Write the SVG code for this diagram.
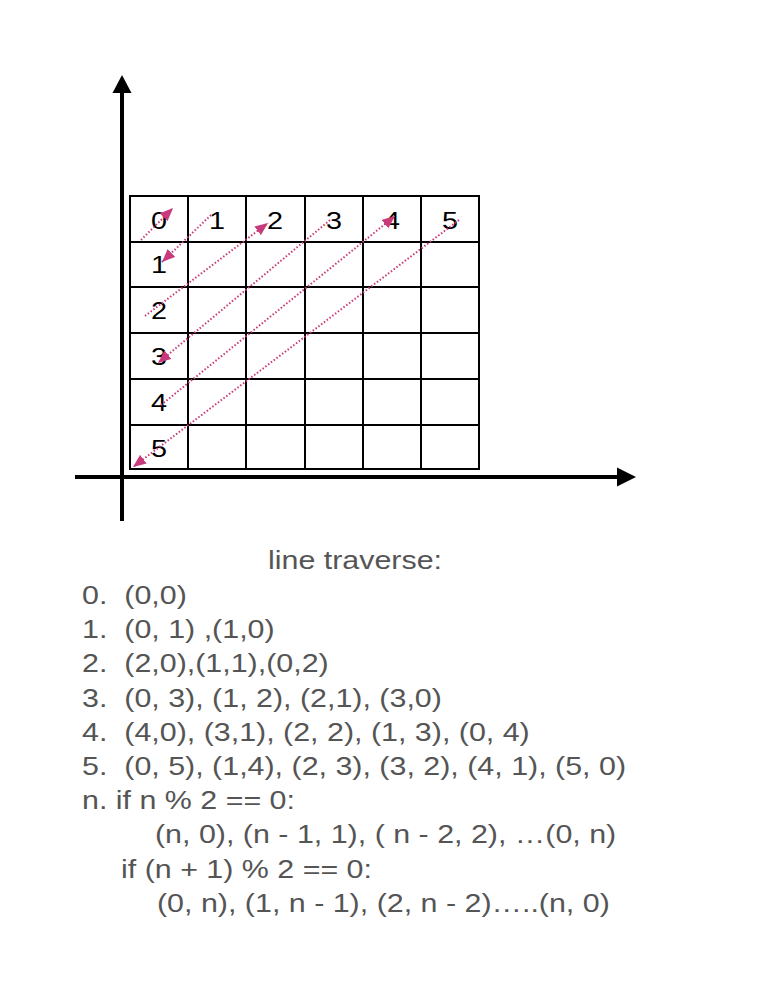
<svg xmlns="http://www.w3.org/2000/svg" width="758" height="1004" viewBox="0 0 758 1004">
<style>
.ax{stroke:#000;stroke-width:4;fill:none}
.axh{fill:#000}
.gl{stroke:#000;stroke-width:2;fill:none}
.d{font-family:"Liberation Sans",Arial,sans-serif;font-size:24px;fill:#000;text-anchor:middle}
.t{font-family:"Liberation Sans",Arial,sans-serif;font-size:26px;fill:#555;white-space:pre}
.c{stroke:#c93a7c;stroke-width:2;stroke-dasharray:1.5 2;fill:none;marker-end:url(#ah)}
</style>
<defs>
<marker id="ah" viewBox="0 0 12 10" refX="12" refY="5" markerWidth="13" markerHeight="11" markerUnits="userSpaceOnUse" orient="auto">
<path d="M0,0 L12,5 L0,10 Z" fill="#c93a7c"/>
</marker>
</defs>
<rect width="758" height="1004" fill="#fff"/>
<g id="axes">
<line class="ax" x1="122" y1="521" x2="122" y2="90"/>
<polygon class="axh" points="112.5,93 122,75 131.5,93"/>
<line class="ax" x1="75" y1="477" x2="620" y2="477"/>
<polygon class="axh" points="617,467.5 636,477 617,486.5"/>
</g>
<g id="grid">
<rect class="gl" x="130" y="196" width="349" height="273"/>
<line class="gl" x1="188" y1="196" x2="188" y2="469"/>
<line class="gl" x1="246" y1="196" x2="246" y2="469"/>
<line class="gl" x1="305" y1="196" x2="305" y2="469"/>
<line class="gl" x1="363" y1="196" x2="363" y2="469"/>
<line class="gl" x1="421" y1="196" x2="421" y2="469"/>
<line class="gl" x1="130" y1="242" x2="479" y2="242"/>
<line class="gl" x1="130" y1="287" x2="479" y2="287"/>
<line class="gl" x1="130" y1="333" x2="479" y2="333"/>
<line class="gl" x1="130" y1="379" x2="479" y2="379"/>
<line class="gl" x1="130" y1="425" x2="479" y2="425"/>
</g>
<g id="labels">
<text class="d" transform="translate(159,229) scale(1.2,1)">0</text>
<text class="d" transform="translate(217,229) scale(1.2,1)">1</text>
<text class="d" transform="translate(275,229) scale(1.2,1)">2</text>
<text class="d" transform="translate(334,229) scale(1.2,1)">3</text>
<text class="d" transform="translate(392,229) scale(1.2,1)">4</text>
<text class="d" transform="translate(450,229) scale(1.2,1)">5</text>
<text class="d" transform="translate(159,273) scale(1.2,1)">1</text>
<text class="d" transform="translate(159,319) scale(1.2,1)">2</text>
<text class="d" transform="translate(159,365) scale(1.2,1)">3</text>
<text class="d" transform="translate(159,411) scale(1.2,1)">4</text>
<text class="d" transform="translate(159,457) scale(1.2,1)">5</text>
</g>
<g id="connectors">
<line class="c" x1="141" y1="240" x2="173" y2="208"/>
<line class="c" x1="211" y1="215" x2="162" y2="262"/>
<line class="c" x1="145" y1="316" x2="268" y2="223"/>
<line class="c" x1="330" y1="220" x2="158" y2="363"/>
<line class="c" x1="161" y1="405" x2="395" y2="216"/>
<line class="c" x1="459" y1="220" x2="133" y2="467"/>
</g>
<g id="notes">
<text class="t" text-anchor="middle" transform="translate(355,569) scale(1.17,1)">line traverse:</text>
<text class="t" transform="translate(82,604) scale(1.17,1)">0.  (0,0)</text>
<text class="t" transform="translate(82,638) scale(1.17,1)">1.  (0, 1) ,(1,0)</text>
<text class="t" transform="translate(82,672) scale(1.17,1)">2.  (2,0),(1,1),(0,2)</text>
<text class="t" transform="translate(82,707) scale(1.17,1)">3.  (0, 3), (1, 2), (2,1), (3,0)</text>
<text class="t" transform="translate(82,741) scale(1.17,1)">4.  (4,0), (3,1), (2, 2), (1, 3), (0, 4)</text>
<text class="t" transform="translate(82,775) scale(1.17,1)">5.  (0, 5), (1,4), (2, 3), (3, 2), (4, 1), (5, 0)</text>
<text class="t" transform="translate(82,809) scale(1.17,1)">n. if n % 2 == 0:</text>
<text class="t" transform="translate(155,843) scale(1.17,1)">(n, 0), (n - 1, 1), ( n - 2, 2), …(0, n)</text>
<text class="t" transform="translate(121,878) scale(1.17,1)">if (n + 1) % 2 == 0:</text>
<text class="t" transform="translate(157,912) scale(1.17,1)">(0, n), (1, n - 1), (2, n - 2)…..(n, 0)</text>
</g>
</svg>
